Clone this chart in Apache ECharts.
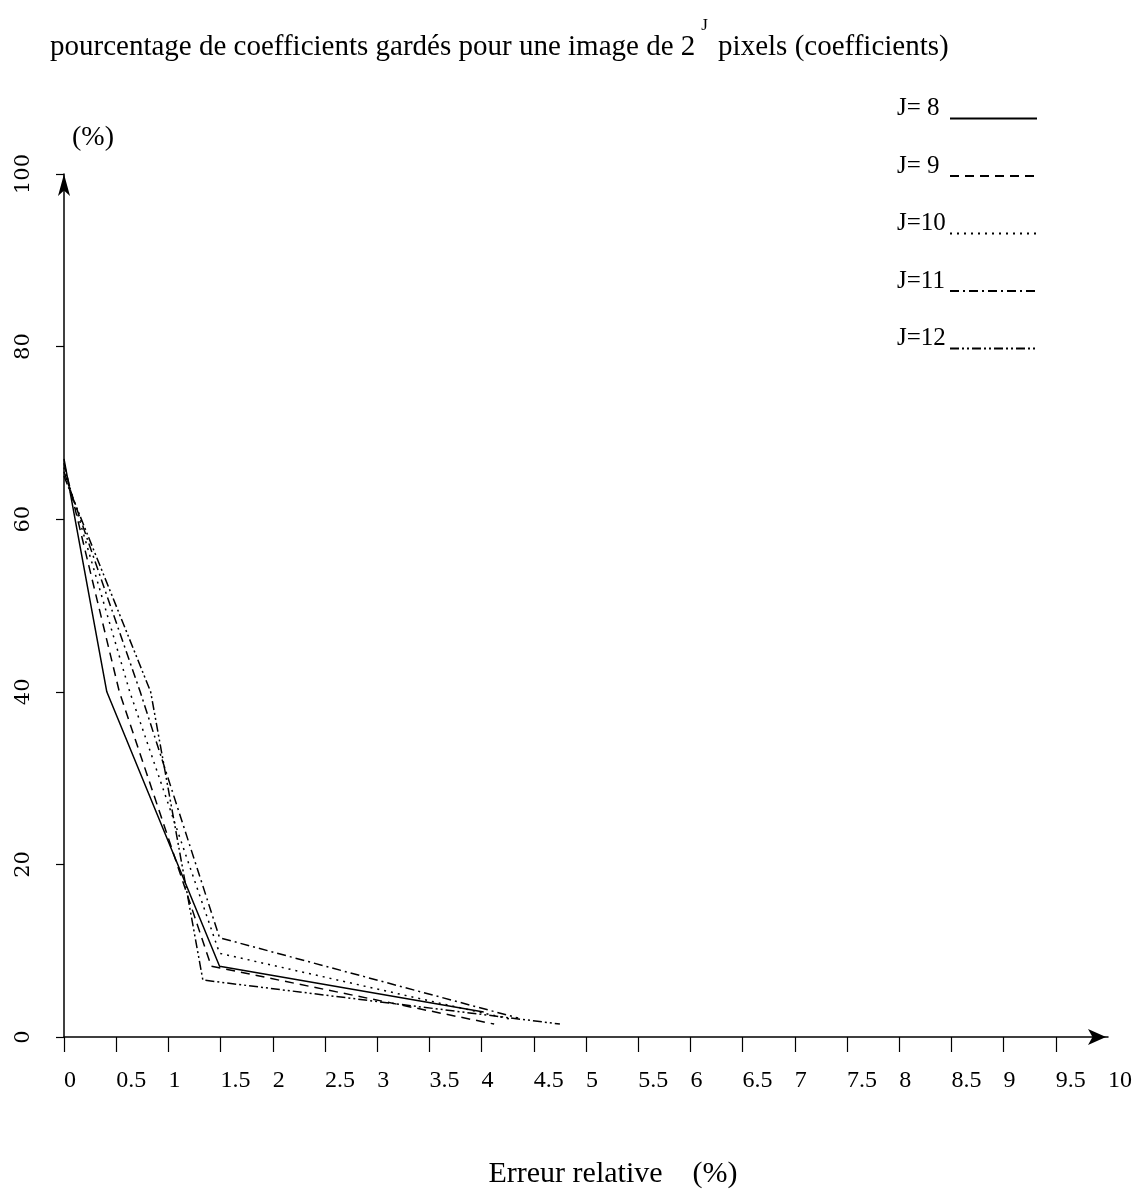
<!DOCTYPE html>
<html>
<head>
<meta charset="utf-8">
<script src="https://cdn.jsdelivr.net/npm/echarts@6/dist/echarts.min.js"></script>
<style>
  html, body { margin: 0; padding: 0; background: #fff; }
  #chart { width: 1138px; height: 1204px; }
</style>
</head>
<body>
<div id="chart"></div>
<script>
// Scale levels J and their line dash patterns
const seriesNames = ['J= 8', 'J= 9', 'J=10', 'J=11', 'J=12'];
const dashTypes = ['solid', [9, 6], [2, 5], [9, 4, 2, 4], [9, 3, 2, 3, 2, 3]];

// Relative error (%) and percentage of kept coefficients, per J
const errJ8  = [0, 0.41, 1.49, 4.02];
const keptJ8 = [67, 40, 8.2, 2.9];
const errJ9  = [0, 0.53, 1.41, 4.12];
const keptJ9 = [66.5, 40, 8.2, 1.5];
const errJ10  = [0, 0.63, 1.49, 4.30];
const keptJ10 = [66, 40, 9.7, 2.0];
const errJ11  = [0, 0.73, 1.49, 4.35];
const keptJ11 = [65.5, 40, 11.5, 2.2];
const errJ12  = [0, 0.83, 1.33, 4.75];
const keptJ12 = [65, 40, 6.6, 1.5];

// Axis ticks and labels
const xTickValues  = [0, 0.5, 1, 1.5, 2, 2.5, 3, 3.5, 4, 4.5, 5, 5.5, 6, 6.5, 7, 7.5, 8, 8.5, 9, 9.5];
const xLabelValues = [0, 0.5, 1, 1.5, 2, 2.5, 3, 3.5, 4, 4.5, 5, 5.5, 6, 6.5, 7, 7.5, 8, 8.5, 9, 9.5, 10];
const yTickValues  = [0, 20, 40, 60, 80, 100];

const errs  = [errJ8, errJ9, errJ10, errJ11, errJ12];
const kepts = [keptJ8, keptJ9, keptJ10, keptJ11, keptJ12];

const serif = 'Liberation Serif';
const ink = '#000';

const series = seriesNames.map((name, i) => ({
  name: name,
  type: 'line',
  symbol: 'none',
  data: errs[i].map((x, k) => [x, kepts[i][k]]),
  lineStyle: { color: ink, width: 1.5, type: dashTypes[i] },
  itemStyle: { color: ink, opacity: 0 },
  emphasis: { disabled: true }
}));

const chart = echarts.init(document.getElementById('chart'), null, { renderer: 'canvas' });
chart.setOption({
  animation: false,
  backgroundColor: '#fff',
  title: {
    text: '{a|pourcentage de coefficients gardés pour une image de 2}{s|J}{a| pixels (coefficients)}',
    left: 45,
    top: 12,
    textStyle: {
      fontWeight: 'normal',
      rich: {
        a: { fontFamily: serif, fontSize: 29, fontWeight: 'normal', color: ink, lineHeight: 60 },
        s: { fontFamily: serif, fontSize: 17, fontWeight: 'normal', color: ink, verticalAlign: 'top', lineHeight: 22, padding: [0, 3, 0, 6] }
      }
    }
  },
  legend: {
    orient: 'vertical',
    left: 897,
    top: 96,
    padding: 0,
    align: 'right',
    itemWidth: 87,
    itemHeight: 14,
    itemGap: 19.5,
    selectedMode: false,
    itemStyle: { opacity: 0 },
    formatter: name => '{t|' + name + '}\n{e| }',
    textStyle: {
      color: ink,
      rich: {
        t: { fontFamily: serif, fontSize: 25, color: ink, lineHeight: 30, width: 48, align: 'left' },
        e: { fontSize: 1, lineHeight: 20 }
      }
    },
    data: seriesNames
  },
  grid: { left: 64, right: 30, top: 174, bottom: 167 },
  xAxis: {
    type: 'value',
    min: 0,
    max: 10,
    name: 'Erreur relative    (%)',
    nameLocation: 'middle',
    nameGap: 122,
    nameTextStyle: { fontFamily: serif, fontSize: 30, color: ink, padding: [0, 0, 0, 54] },
    axisLine: {
      show: true,
      onZero: false,
      symbol: ['none', 'arrow'],
      symbolSize: [12, 18],
      symbolOffset: [0, -2],
      lineStyle: { color: ink, width: 1.5 }
    },
    axisTick: { show: true, customValues: xTickValues, length: 15, lineStyle: { color: ink, width: 1.2 } },
    axisLabel: {
      customValues: xLabelValues,
      align: 'left',
      margin: 32,
      fontFamily: serif,
      fontSize: 24,
      color: ink,
      formatter: v => String(v)
    },
    splitLine: { show: false }
  },
  yAxis: {
    type: 'value',
    min: 0,
    max: 100,
    name: '(%)',
    nameLocation: 'end',
    nameGap: 22,
    nameTextStyle: { fontFamily: serif, fontSize: 28, color: ink, align: 'left', padding: [0, 0, 0, 8] },
    axisLine: {
      show: true,
      onZero: false,
      symbol: ['none', 'arrow'],
      symbolSize: [9, 22],
      lineStyle: { color: ink, width: 1.5 }
    },
    axisTick: { show: true, customValues: yTickValues, length: 8, lineStyle: { color: ink, width: 1.2 } },
    axisLabel: {
      customValues: yTickValues,
      rotate: 90,
      margin: 30,
      fontFamily: 'DejaVu Serif',
      fontSize: 21,
      color: ink
    },
    splitLine: { show: false }
  },
  series: series
});
</script>
</body>
</html>
